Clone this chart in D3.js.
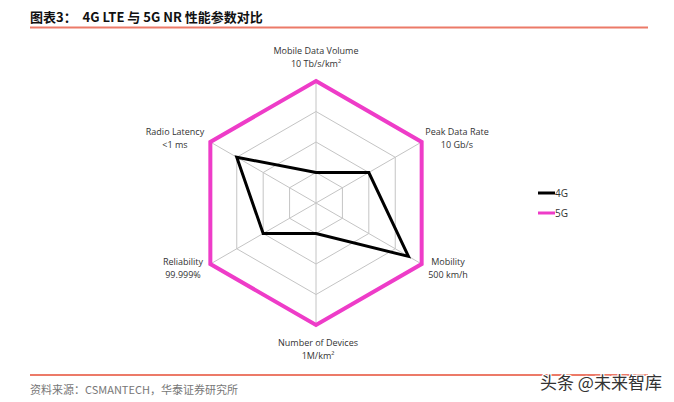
<!DOCTYPE html>
<html><head><meta charset="utf-8">
<script src="https://cdn.jsdelivr.net/npm/d3@7"></script>
<style>body{margin:0;background:#fff}svg{display:block}</style>
</head><body>
<svg id="c" width="674" height="402"></svg>
<script>
const axes = ["Mobile Data Volume","Peak Data Rate","Mobility","Number of Devices","Reliability","Radio Latency"];
const axisUnits = ["10 Tb/s/km²","10 Gb/s","500 km/h","1M/km²","99.999%","<1 ms"];
const series4G = [1, 2, 3.5, 1, 2, 3];
const series5G = [4, 4, 4, 4, 4, 4];
const gridLevels = [1, 2, 3, 4];
const seriesNames = ["4G","5G"];
const seriesColors = ["#000000","#ee3cc8"];

const svg = d3.select("#c");
const cx = 316, cy = 203, R = 122;
const r = d3.scaleLinear().domain([0,4]).range([0,R]);
const ang = d3.scalePoint().domain(axes).range([0, 2*Math.PI*(axes.length-1)/axes.length]);
const pt = (a, v) => [cx + r(v)*Math.sin(ang(a)), cy - r(v)*Math.cos(ang(a))];

// title
svg.append("text").attr("x",30).attr("y",22).attr("font-family","'Noto Sans CJK SC',sans-serif")
  .attr("font-size",13).attr("font-weight","bold").attr("fill","#111").attr("xml:space","preserve")
  .text("图表3：  4G LTE 与 5G NR 性能参数对比");
svg.append("line").attr("x1",30).attr("x2",648).attr("y1",27.5).attr("y2",27.5).attr("stroke","#ec7a68").attr("stroke-width",2);
svg.append("line").attr("x1",30).attr("x2",648).attr("y1",375).attr("y2",375).attr("stroke","#ec7a68").attr("stroke-width",2);
svg.append("text").attr("x",30).attr("y",394).attr("font-family","'Noto Sans CJK SC',sans-serif")
  .attr("font-size",11).attr("fill","#777").text("资料来源：CSMANTECH，华泰证券研究所");
svg.append("text").attr("x",540).attr("y",389).attr("font-family","'Noto Sans CJK SC',sans-serif")
  .attr("font-size",17).attr("fill","#333").attr("stroke","#fff").attr("stroke-width",2.5).attr("paint-order","stroke")
  .text("头条 @未来智库");

// grid
const line = d3.line();
gridLevels.slice(0,3).forEach(l => {
  svg.append("path").attr("d", line(axes.map(a => pt(a,l))) + "Z")
    .attr("fill","none").attr("stroke","#c4c4c4").attr("stroke-width",1);
});
axes.forEach(a => {
  const p = pt(a, 4), q = pt(a, 0);
  svg.append("line").attr("x1",q[0]).attr("y1",q[1]).attr("x2",p[0]).attr("y2",p[1])
    .attr("stroke","#c4c4c4").attr("stroke-width",1);
});

// series
[series5G, series4G].forEach((s,i) => {
  const idx = i===0 ? 1 : 0;
  svg.append("path").attr("d", line(axes.map((a,j) => pt(a, s[j]))) + "Z")
    .attr("fill","none").attr("stroke",seriesColors[idx]).attr("stroke-width", idx===1?4:3)
    .attr("stroke-linejoin","miter").attr("stroke-miterlimit",10);
});

// axis labels
const labelPos = {
  "Mobile Data Volume":[316,51],
  "Peak Data Rate":[457,132],
  "Mobility":[448,262],
  "Number of Devices":[318,343],
  "Reliability":[183,262],
  "Radio Latency":[175,132]
};
axes.forEach((a,j) => {
  const [x,y] = labelPos[a];
  const t = svg.append("text").attr("x",x).attr("y",y+3).attr("text-anchor","middle")
    .attr("font-family","'Open Sans',sans-serif").attr("font-size",9).attr("fill","#333");
  t.append("tspan").attr("x",x).text(a);
  t.append("tspan").attr("x",x).attr("dy",13).text(axisUnits[j]);
});

// legend
seriesNames.forEach((n,i) => {
  const y = 193 + i*20;
  svg.append("line").attr("x1",538).attr("x2",555).attr("y1",y).attr("y2",y)
    .attr("stroke",seriesColors[i]).attr("stroke-width",3);
  svg.append("text").attr("x",555).attr("y",y+4).attr("font-family","'Open Sans',sans-serif")
    .attr("font-size",10).attr("fill","#333").text(n);
});
</script>
</body></html>
